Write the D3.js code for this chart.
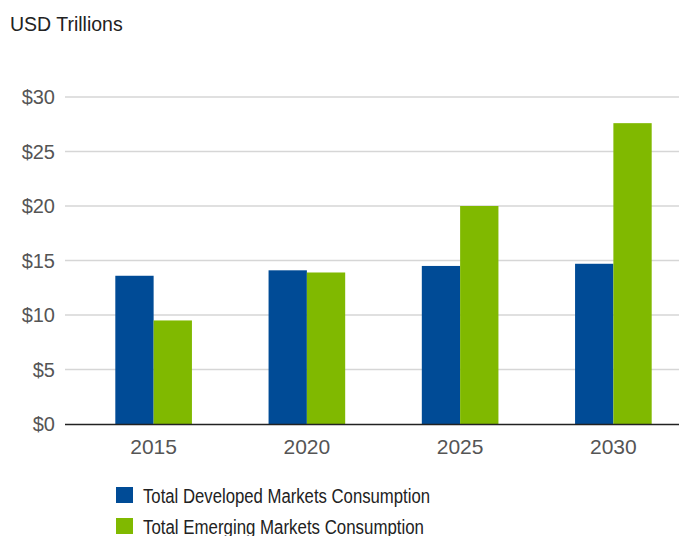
<!DOCTYPE html>
<html><head><meta charset="utf-8">
<script src="https://cdn.jsdelivr.net/npm/d3@7"></script>
<style>body{margin:0;background:#fff}svg{display:block}</style>
</head><body>
<svg id="c" width="679" height="536"></svg>
<script>
const categories = ["2015","2020","2025","2030"];
const developed = [13.6, 14.1, 14.5, 14.7];
const emerging = [9.5, 13.9, 20.0, 27.6];
const seriesNames = ["Total Developed Markets Consumption","Total Emerging Markets Consumption"];
const colors = ["#004b96","#80b900"];
const yTicks = [0,5,10,15,20,25,30];

const svg = d3.select("#c");
const y = d3.scaleLinear().domain([0,30]).range([424,97]);
const x0 = d3.scaleBand().domain(categories).range([77,690]).paddingInner(0.5).paddingOuter(0.25);
const x1 = d3.scaleBand().domain([0,1]).range([0,x0.bandwidth()]);

svg.append("text").attr("x",10).attr("y",31).text("USD Trillions")
  .attr("font-family","Liberation Sans, Arial, sans-serif").attr("font-size",19.5).attr("fill","#222");

const grid = svg.append("g");
grid.selectAll("line").data(yTicks.filter(d=>d>0)).join("line")
  .attr("x1",65).attr("x2",679).attr("y1",d=>y(d)).attr("y2",d=>y(d))
  .attr("stroke","#d6d6d6").attr("stroke-width",1.5);
svg.append("g").selectAll("text").data(yTicks).join("text")
  .attr("x",55).attr("y",d=>y(d)+7).attr("text-anchor","end")
  .attr("font-family","Liberation Sans, Arial, sans-serif").attr("font-size",20).attr("fill","#555")
  .text(d=>"$"+d);

const data = categories.map((c,i)=>({c, v:[developed[i], emerging[i]]}));
const g = svg.append("g");
g.selectAll("g").data(data).join("g").attr("transform",d=>`translate(${x0(d.c)},0)`)
  .selectAll("rect").data(d=>d.v.map((v,k)=>({v,k}))).join("rect")
  .attr("x",d=>x1(d.k)).attr("width",x1.bandwidth())
  .attr("y",d=>y(d.v)).attr("height",d=>y(0)-y(d.v)).attr("fill",d=>colors[d.k]);

svg.append("line").attr("x1",65).attr("x2",679).attr("y1",y(0)+0.5).attr("y2",y(0)+0.5)
  .attr("stroke","#222").attr("stroke-width",1.5);

svg.append("g").selectAll("text").data(categories).join("text")
  .attr("x",d=>x0(d)+x0.bandwidth()/2).attr("y",454).attr("text-anchor","middle")
  .attr("font-family","Liberation Sans, Arial, sans-serif").attr("font-size",21).attr("fill","#555")
  .text(d=>d);

const legendWidths = [287, 281];
const lg = svg.append("g");
seriesNames.forEach((n,i)=>{
  const yy = 487 + i*31;
  lg.append("rect").attr("x",116).attr("y",yy).attr("width",17).attr("height",16).attr("fill",colors[i]);
  lg.append("text").attr("x",143).attr("y",yy+16).text(n)
    .attr("textLength",legendWidths[i]).attr("lengthAdjust","spacingAndGlyphs")
    .attr("font-family","Liberation Sans, Arial, sans-serif").attr("font-size",20).attr("fill","#222");
});
</script>
</body></html>
